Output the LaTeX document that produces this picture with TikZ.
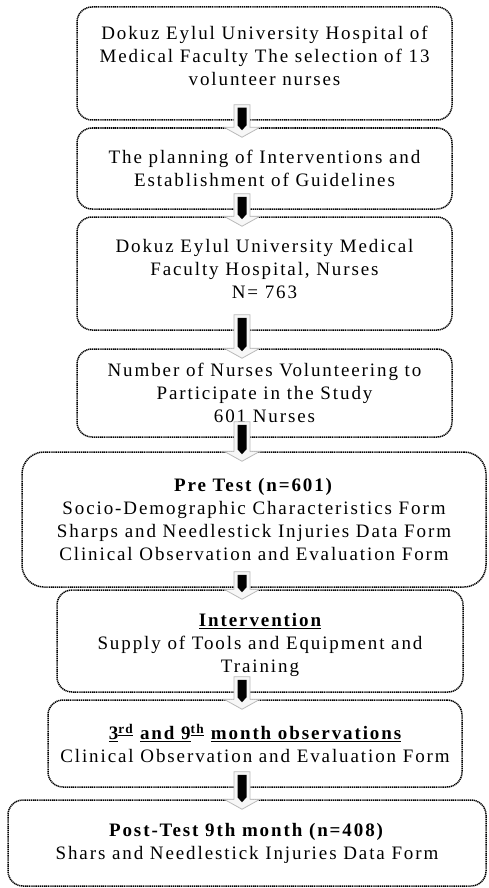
\documentclass[tikz,border=0pt]{standalone}
\usepackage{fontspec}
\setmainfont{Liberation Serif}[LetterSpace=10]
\usepackage{tikz}
\usetikzlibrary{calc}

\begin{document}
\begin{tikzpicture}[x=1pt, y=-1pt,
    stage/.style={draw, dash pattern=on 1.2pt off 0.7pt, line width=1.5pt, rounded corners=15pt,
      inner sep=0pt, align=center, font=\fontsize{19}{23}\selectfont},
    arrowshade/.style={fill=gray!6, draw=gray!55, line width=0.8pt}]
  \useasboundingbox (0,0) rectangle (488,888);
  % column of the arrows
  \coordinate (col) at (242,0);
  % stages, top to bottom
  \node[stage, minimum width=375, minimum height=113] (b1) at (264.5,63.5)
    {Dokuz Eylul University Hospital of\\Medical Faculty The selection of 13\\volunteer nurses\rule[-15pt]{0pt}{15pt}};
  \node[stage, minimum width=375, minimum height=81] (b2) at (264.5,168.5)
    {The planning of Interventions and\\Establishment of Guidelines};
  \node[stage, minimum width=375, minimum height=113] (b3) at (264.5,273.5)
    {Dokuz Eylul University Medical\\Faculty Hospital, Nurses\\N= 763\rule[-9pt]{0pt}{9pt}};
  \node[stage, minimum width=375, minimum height=88] (b4) at (264.5,393)
    {Number of Nurses Volunteering to\\Participate in the Study\\601 Nurses};
  \node[stage, minimum width=464, minimum height=135, rounded corners=22pt] (b5) at (254,519.5)
    {\textbf{Pre Test (n=601)}\\Socio-Demographic Characteristics Form\\Sharps and Needlestick Injuries Data Form\\Clinical Observation and Evaluation Form};
  \node[stage, minimum width=406, minimum height=102] (b6) at (260,641)
    {\rule{0pt}{22pt}\textbf{\underline{Intervention}}\\Supply of Tools and Equipment and\\Training};
  \node[stage, minimum width=414, minimum height=87] (b7) at (255,743.5)
    {\textbf{\underline{3}\textsuperscript{\underline{rd}} \underline{and 9}\textsuperscript{\underline{th}} \underline{month observations}}\\Clinical Observation and Evaluation Form};
  \node[stage, minimum width=478, minimum height=86] (b8) at (247,843)
    {\textbf{Post-Test 9th month (n=408)}\\Shars and Needlestick Injuries Data Form};
  % block arrows between the stages
  \foreach \up/\down in {b1/b2, b2/b3, b3/b4, b4/b5, b5/b6, b6/b7, b7/b8} {
    \coordinate (top) at ($(\up.south -| col)+(0,-16)$);
    \coordinate (tip) at ($(\down.north -| col)+(0,10)$);
    \filldraw[arrowshade] ($(top)+(-8,0)$) -- ($(top)+(8,0)$) -- ($(tip)+(8,-10)$)
      -- ($(tip)+(18,-10)$) -- (tip) -- ($(tip)+(-18,-10)$) -- ($(tip)+(-8,-10)$) -- cycle;
    \fill ($(top)+(-4.5,3)$) -- ($(top)+(4.5,3)$) -- ($(tip)+(4.5,-12)$)
      -- ($(tip)+(0,-7)$) -- ($(tip)+(-4.5,-12)$) -- cycle;
  }
\end{tikzpicture}
\end{document}
